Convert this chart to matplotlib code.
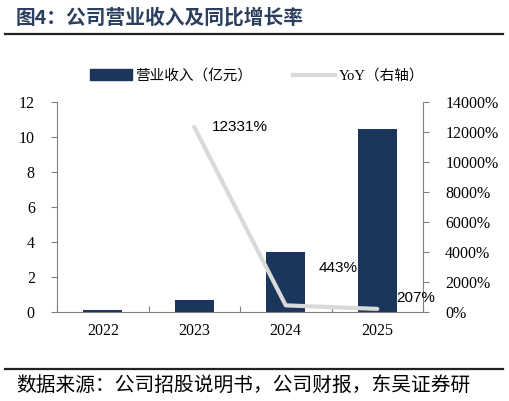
import matplotlib
matplotlib.use("Agg")
import matplotlib.pyplot as plt
from matplotlib.patches import Patch
from matplotlib.lines import Line2D
import numpy as np

years = ["2022", "2023", "2024", "2025"]
revenue = [0.1, 0.7, 3.43, 10.45]
yoy_years = ["2023", "2024", "2025"]
yoy = [12331, 443, 207]
yoy_labels = ["12331%", "443%", "207%"]
left_ticks = [0, 2, 4, 6, 8, 10, 12]
right_ticks = [0, 2000, 4000, 6000, 8000, 10000, 12000, 14000]

CJK = ["Noto Sans CJK SC", "DejaVu Sans"]
SERIF = ["Liberation Serif", "Noto Sans CJK SC"]
SANS = ["Liberation Sans", "DejaVu Sans"]

bar_color = "#1b365d"
line_color = "#d9d9d9"
spine_color = "#808080"

fig = plt.figure(figsize=(5.09, 4.01), dpi=100)
ax = fig.add_axes([57/509, 1-312/401, (423-57)/509, (312-102)/401])
ax2 = ax.twinx()

x = np.arange(len(years))
ax.bar(x, revenue, width=0.43, color=bar_color, zorder=2)
ax.set_xlim(-0.5, len(years)-0.5)
ax.set_ylim(0, 12)
ax.set_yticks(left_ticks)
ax.set_yticklabels([str(t) for t in left_ticks], family=SERIF, fontsize=11.5)

xi = [years.index(y) for y in yoy_years]
ax2.plot(xi, yoy, color=line_color, lw=3, solid_capstyle="round", zorder=3)
ax2.set_ylim(0, 14000)
ax2.set_yticks(right_ticks)
ax2.set_yticklabels([f"{t}%" for t in right_ticks], family=SERIF, fontsize=11.5)

offsets = [(13, 0), (24, 27), (14, 8)]
for xv, yv, lab, off in zip(xi, yoy, yoy_labels, offsets):
    ax2.annotate(lab, (xv, yv), xytext=off, textcoords="offset points",
                 ha="left", va="center", family=SANS, fontsize=11, color="black", zorder=5)

# x-axis: boundaries with inward ticks, labels at centers
ax.set_xticks(np.arange(-0.5, len(years), 1.0))
ax.set_xticklabels([])
ax.tick_params(axis="x", which="major", direction="in", length=4, color=spine_color)
ax.set_xticks(x, minor=True)
ax.set_xticklabels(years, minor=True, family=SERIF, fontsize=11.5)
ax.tick_params(axis="x", which="minor", length=0, pad=8)
ax.tick_params(axis="y", direction="out", length=4, color=spine_color, pad=12)
ax2.tick_params(axis="y", direction="out", length=4, color=spine_color, pad=12)

for a in (ax, ax2):
    a.spines["top"].set_visible(False)
    for s in ("left", "right", "bottom"):
        a.spines[s].set_color(spine_color)
        a.spines[s].set_linewidth(0.8)
ax.spines["right"].set_visible(False)
ax2.spines["left"].set_visible(False)
ax2.spines["bottom"].set_visible(False)
ax.set_zorder(1)
ax2.set_zorder(2)
ax2.patch.set_visible(False)

handles = [Patch(facecolor=bar_color, edgecolor=bar_color),
           Line2D([0], [0], color=line_color, lw=3)]
fig.legend(handles, ["营业收入（亿元）", "YoY（右轴）"], loc="center",
           bbox_to_anchor=(257/509, 1-76/401), ncol=2, frameon=False,
           prop={"family": ["Liberation Serif", "Noto Sans CJK SC"], "size": 10.5},
           handlelength=2.9, handleheight=0.8,
           columnspacing=2.8, handletextpad=0.2)

fig.text(16/509, 1-18/401, "图4：公司营业收入及同比增长率", family=CJK, fontsize=14.2,
         fontweight="bold", color="#2b3f5f", ha="left", va="center")
fig.add_artist(Line2D([5/509, 503/509], [1-34/401, 1-34/401], color="#222222", lw=1.6))
fig.add_artist(Line2D([5/509, 503/509], [1-369/401, 1-369/401], color="#222222", lw=1.6))
fig.text(16/509, 1-386/401, "数据来源：公司招股说明书，公司财报，东吴证券研", family=CJK,
         fontsize=14.2, color="black", ha="left", va="center")

fig.savefig("out.png", dpi=100)
